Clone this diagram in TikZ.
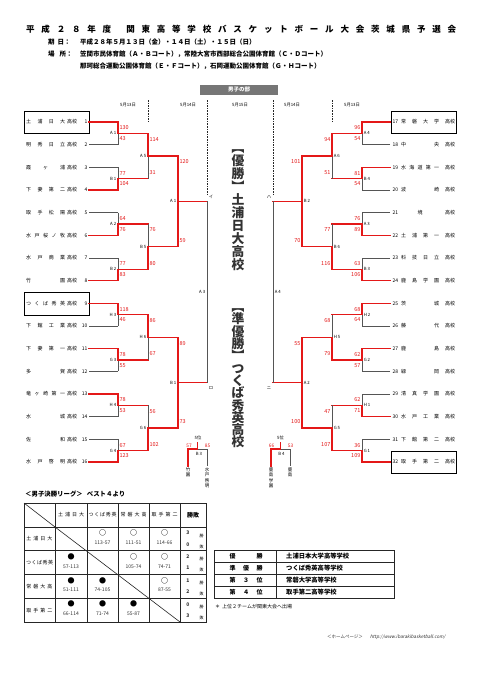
\documentclass[tikz,border=0pt]{standalone}
\usepackage{fontspec}
\setmainfont{Noto Sans CJK JP}
\usetikzlibrary{calc}
\definecolor{winred}{RGB}{228,24,24}
\definecolor{lgray}{RGB}{85,85,85}
\definecolor{bannergray}{RGB}{118,118,118}
\definecolor{bigtext}{RGB}{50,50,50}
\newcommand\fsz[1]{\fontsize{#1}{#1}\selectfont}
\makeatletter
\def\sp@A#1{#1\sp@B}
\def\sp@B#1{\ifx#1\relax\else\hfil#1\expandafter\sp@B\fi}
\newcommand\sprd[2]{\makebox[#1][s]{\sp@A#2\relax}}
\makeatother
% left-side match
\newcommand\lmatch[9]{%
  \pgfmathsetmacro\ymid{(#3+#4)/2}%
  \coordinate (#1t) at (#2,#3);%
  \coordinate (#1b) at (#2,#4);%
  \coordinate (#1m) at (#2,\ymid);%
  \coordinate (#1x) at (#5,\ymid);%
  \ifnum#6=1\relax
    \draw[lose] (#1m) -- (#1b);\draw[win] (#1t) -- (#1m);%
  \else
    \draw[lose] (#1t) -- (#1m);\draw[win] (#1m) -- (#1b);%
  \fi
  \draw[win] (#1m) -- (#1x);%
  \node[mlab, anchor=east] (#1l) at ($(#1m)+(-1.6,0)$) {#7};%
  \node[sc, anchor=west] (#1s) at ($(#1t)+(1.4,6)$) {#8};%
  \node[sc, anchor=west] (#1u) at ($(#1b)+(1.4,-6)$) {#9};%
}
% right-side match
\newcommand\rmatch[9]{%
  \pgfmathsetmacro\ymid{(#3+#4)/2}%
  \coordinate (#1t) at (#2,#3);%
  \coordinate (#1b) at (#2,#4);%
  \coordinate (#1m) at (#2,\ymid);%
  \coordinate (#1x) at (#5,\ymid);%
  \ifnum#6=1\relax
    \draw[lose] (#1m) -- (#1b);\draw[win] (#1t) -- (#1m);%
  \else
    \draw[lose] (#1t) -- (#1m);\draw[win] (#1m) -- (#1b);%
  \fi
  \draw[win] (#1m) -- (#1x);%
  \node[mlab, anchor=west] (#1l) at ($(#1m)+(1.6,0)$) {#7};%
  \node[sc, anchor=east] (#1s) at ($(#1t)+(-1.4,6)$) {#8};%
  \node[sc, anchor=east] (#1u) at ($(#1b)+(-1.4,-6)$) {#9};%
}
\newcommand\lteam[3]{%
  \node[tname, anchor=west] (ln#1) at (26,#2) {\sprd{39pt}{#3}};%
  \node[tname, anchor=west] (lk#1) at (67,#2) {高校};%
  \node[tname, anchor=east] (lu#1) at (87.5,#2) {#1};%
  \coordinate (ls#1) at (89,#2);%
  \coordinate (le#1) at (118,#2);%
}
\newcommand\rteam[3]{%
  \node[tname, anchor=west] (ru#1) at (392.5,#2) {#1};%
  \node[tname, anchor=west] (rn#1) at (401,#2) {\sprd{38pt}{#3}};%
  \node[tname, anchor=west] (rk#1) at (445,#2) {高校};%
  \coordinate (rs#1) at (390,#2);%
  \coordinate (re#1) at (362,#2);%
}
\newcommand\rrcell[5]{%
  \node[rrsym] (#1a) at (#2,#3+6) {#4};%
  \node[rrsc] (#1b) at (#2,#3+15.5) {#5};%
}
\newcommand\wl[4]{%
  \node[rrsc, font=\bfseries\fsz{5}] (#1w) at (188,#2+6) {#3};%
  \node[inner sep=0, font=\fsz{4}] (#1wk) at (201.5,#2+8.7) {勝};%
  \node[rrsc, font=\bfseries\fsz{5}] (#1l) at (188,#2+17.3) {#4};%
  \node[inner sep=0, font=\fsz{4}] (#1lk) at (201.5,#2+19.7) {敗};%
}
\begin{document}
\begin{tikzpicture}[x=1pt,y=-1pt,
  ln/.style={draw=lgray, line width=0.6pt},
  win/.style={draw=winred, line width=1.4pt, line cap=rect},
  lose/.style={ln},
  dashln/.style={draw=black!85, line width=1pt, dash pattern=on 1.6pt off 1pt},
  tname/.style={inner sep=0, font=\fsz{5}},
  sc/.style={inner sep=0, text=winred, font=\fsz{5.5}},
  mlab/.style={inner sep=0, font=\fsz{4.3}},
  dlab/.style={inner sep=0, font=\fsz{4.3}},
  tbl/.style={draw=black!85, line width=0.6pt},
  tblb/.style={draw=black!85, line width=0.9pt},
  rrsym/.style={inner sep=0, font=\bfseries\fsz{7}},
  rrsc/.style={inner sep=0, font=\fsz{5}, text=black!80},
  rrlab/.style={inner sep=0, font=\fsz{5}},
  boxst/.style={draw=black, line width=0.8pt},
  vname/.style={inner sep=0, align=center, font=\fontsize{4.5}{5.4}\selectfont},
  bigv/.style={inner sep=0, align=center, text=bigtext}
]
\fill[white] (0,0) rectangle (481,680);
\useasboundingbox (0,0) rectangle (481,680);

% ---------- header ----------
\node[anchor=west, inner sep=0, font=\bfseries\fsz{8.5}] (title) at (26,29)
  {\sprd{430pt}{平成２８年度\,関東高等学校バスケットボール大会茨城県予選会}};
\node[anchor=west, inner sep=0, font=\bfseries\fsz{6.5}] (d1) at (48,42) {期\hspace{3pt}日：};
\node[anchor=west, inner sep=0, font=\bfseries\fsz{6.5}] (d2) at (80,42) {平成２８年５月１３日（金）・１４日（土）・１５日（日）};
\node[anchor=west, inner sep=0, font=\bfseries\fsz{6.5}] (p1) at (48,54) {場\hspace{5pt}所：};
\node[anchor=west, inner sep=0, font=\bfseries\fsz{6.5}] (p2) at (80,54) {笠間市民体育館（Ａ・Ｂコート），常陸大宮市西部総合公園体育館（Ｃ・Ｄコート）};
\node[anchor=west, inner sep=0, font=\bfseries\fsz{6.5}] (p3) at (80,66) {那珂総合運動公園体育館（Ｅ・Ｆコート），石岡運動公園体育館（Ｇ・Ｈコート）};

\node[fill=bannergray, minimum width=78pt, minimum height=10pt, inner sep=0, text=white, font=\bfseries\fsz{5.5}] (banner) at (239,89.5) {男子の部};

\node[dlab] (dt1) at (128,105) {5月13日};
\node[dlab] (dt2) at (188,105) {5月14日};
\node[dlab] (dt3) at (240,105) {5月15日};
\node[dlab] (dt4) at (292,105) {5月14日};
\node[dlab] (dt5) at (352,105) {5月13日};
\draw[dashln] (148,100) -- (148,122);
\draw[dashln] (207,100) -- (207,195);
\draw[dashln] (273,100) -- (273,195);
\draw[dashln] (332,100) -- (332,122);

% ---------- left teams ----------
\lteam{1}{122}{土浦日大}
\lteam{2}{144.67}{明秀日立}
\lteam{3}{167.33}{霞ヶ浦}
\lteam{4}{190}{下妻第二}
\lteam{5}{212.67}{取手松陽}
\lteam{6}{235.33}{水戸桜ノ牧}
\lteam{7}{258}{水戸商業}
\lteam{8}{280.67}{竹園}
\lteam{9}{303.33}{つくば秀英}
\lteam{10}{326}{下館工業}
\lteam{11}{348.67}{下妻第一}
\lteam{12}{371.33}{多賀}
\lteam{13}{394}{竜ヶ崎第一}
\lteam{14}{416.67}{水城}
\lteam{15}{439.33}{佐和}
\lteam{16}{462}{水戸啓明}
\draw[boxst] (24,111) rectangle (89,133);
\draw[boxst] (24,292) rectangle (89,315);
\foreach \i in {2,3,5,7,10,12,14,15} {\draw[ln] (ls\i) -- (le\i);}
\foreach \i in {1,4,6,8,9,11,13,16} {\draw[win] (ls\i) -- (le\i);}

% ---------- right teams ----------
\rteam{17}{122}{常磐大学}
\rteam{18}{144.67}{中央}
\rteam{19}{167.33}{水海道第一}
\rteam{20}{190}{波崎}
\rteam{21}{212.67}{\hfil 境\hfil}
\rteam{22}{235.33}{土浦第一}
\rteam{23}{258}{科技日立}
\rteam{24}{280.67}{鹿島学園}
\rteam{25}{303.33}{茨城}
\rteam{26}{326}{藤代}
\rteam{27}{348.67}{鹿島}
\rteam{28}{371.33}{緑岡}
\rteam{29}{394}{清真学園}
\rteam{30}{416.67}{水戸工業}
\rteam{31}{439.33}{下館第二}
\rteam{32}{462}{取手第二}
\draw[boxst] (391,111) rectangle (456,133);
\draw[boxst] (391,451) rectangle (456,473.5);
\foreach \i in {18,20,21,23,26,28,29,31} {\draw[ln] (rs\i) -- (re\i);}
\foreach \i in {17,19,22,24,25,27,30,32} {\draw[win] (rs\i) -- (re\i);}

% ---------- left bracket ----------
\tikzset{lose/.style={ln}}
\lmatch{LA1}{118}{122}{144.67}{148}{1}{A 1}{130}{43}
\lmatch{LB1}{118}{167.33}{190}{148}{0}{B 1}{77}{104}
\lmatch{LA2}{118}{212.67}{235.33}{148}{0}{A 2}{64}{76}
\lmatch{LB2}{118}{258}{280.67}{148}{0}{B 2}{77}{83}
\lmatch{LH3}{118}{303.33}{326}{148}{1}{H 3}{118}{46}
\lmatch{LG3}{118}{348.67}{371.33}{148}{1}{G 3}{78}{55}
\lmatch{LH4}{118}{394}{416.67}{148}{1}{H 4}{78}{53}
\lmatch{LG4}{118}{439.33}{462}{148}{0}{G 4}{67}{123}
\lmatch{LA5}{148}{133.33}{178.67}{178}{1}{A 5}{114}{31}
\lmatch{LB5}{148}{224}{269.33}{178}{0}{B 5}{76}{80}
\lmatch{LH6}{148}{314.67}{360}{178}{1}{H 6}{86}{67}
\lmatch{LG6}{148}{405.33}{450.67}{178}{0}{G 6}{56}{102}
\tikzset{lose/.style={win}}
\lmatch{LAr}{178}{156}{246.67}{207}{1}{A 1}{120}{59}
\lmatch{LBr}{178}{337.33}{428}{207}{1}{B 1}{89}{73}
\draw[ln] (LArx) -- (LBrx);
\node[mlab, anchor=east] (LA3) at (205.4,292) {A 3};
\node[mlab] (kI) at (211,196.5) {イ};
\node[mlab] (kRo) at (211,388) {ロ};

% ---------- right bracket ----------
\tikzset{lose/.style={ln}}
\rmatch{RA4}{362}{122}{144.67}{332}{1}{A 4}{96}{54}
\rmatch{RB4}{362}{167.33}{190}{332}{1}{B 4}{81}{54}
\rmatch{RA3}{362}{212.67}{235.33}{332}{0}{A 3}{76}{89}
\rmatch{RB3}{362}{258}{280.67}{332}{0}{B 3}{63}{106}
\rmatch{RH2}{362}{303.33}{326}{332}{1}{H 2}{68}{64}
\rmatch{RG2}{362}{348.67}{371.33}{332}{1}{G 2}{62}{57}
\rmatch{RH1}{362}{394}{416.67}{332}{0}{H 1}{62}{71}
\rmatch{RG1}{362}{439.33}{462}{332}{0}{G 1}{36}{109}
\rmatch{RA6}{332}{133.33}{178.67}{302}{1}{A 6}{94}{51}
\rmatch{RB6}{332}{224}{269.33}{302}{0}{B 6}{77}{116}
\rmatch{RH5}{332}{314.67}{360}{302}{0}{H 5}{68}{79}
\rmatch{RG5}{332}{405.33}{450.67}{302}{0}{G 5}{47}{107}
\tikzset{lose/.style={win}}
\rmatch{RBr}{302}{156}{246.67}{273}{1}{B 2}{101}{70}
\rmatch{RAr}{302}{337.33}{428}{273}{0}{A 2}{55}{100}
\draw[ln] (RBrx) -- (RArx);
\node[mlab, anchor=west] (RA4f) at (274.6,292) {A 4};
\node[mlab] (kHa) at (269,196.5) {ハ};
\node[mlab] (kNi) at (269,388) {ニ};

% ---------- champions (vertical) ----------
\node[bigv, font=\bfseries\fontsize{12.8}{13}\selectfont] (champ) at (238,210)
  {︻\\優\\勝\\︼\\土\\浦\\日\\大\\高\\校};
\node[bigv, font=\bfseries\fontsize{12.8}{12.3}\selectfont] (runner) at (238,378.5)
  {︻\\準\\優\\勝\\︼\\つ\\く\\ば\\秀\\英\\高\\校};

% ---------- 5th place, left ----------
\coordinate (faL) at (188,449);
\coordinate (faR) at (207,449);
\coordinate (faM) at (197.5,449);
\coordinate (faT) at (197.5,442.5);
\coordinate (faLd) at (188,466);
\coordinate (faRd) at (207,466);
\draw[ln] (faM) -- (faR) -- (faRd);
\draw[win, line width=1.2pt] (faT) -- (faM) -- (faL) -- (faLd);
\node[dlab] (fat) at (198,437.5) {5位};
\node[sc, font=\fsz{4.8}, anchor=south] (fas1) at (189,447.6) {57};
\node[sc, font=\fsz{4.8}, anchor=south] (fas2) at (207.5,447.6) {85};
\node[dlab] (fab) at (199,453.8) {B 3};
\node[vname, anchor=north] (fan1) at (188,467.5) {竹\\園};
\node[vname, anchor=north] (fan2) at (207,467.5) {水\\戸\\啓\\明};

% ---------- 5th place, right ----------
\coordinate (fbL) at (271,449);
\coordinate (fbR) at (290,449);
\coordinate (fbM) at (280.5,449);
\coordinate (fbT) at (280.5,442.5);
\coordinate (fbLd) at (271,466);
\coordinate (fbRd) at (290,466);
\draw[ln] (fbM) -- (fbR) -- (fbRd);
\draw[win, line width=1.2pt] (fbT) -- (fbM) -- (fbL) -- (fbLd);
\node[dlab] (fbt) at (280.5,437.5) {5位};
\node[sc, font=\fsz{4.8}, anchor=south] (fbs1) at (271.5,447.6) {66};
\node[sc, font=\fsz{4.8}, anchor=south] (fbs2) at (290.5,447.6) {53};
\node[dlab] (fbb) at (281.5,453.8) {B 4};
\node[vname, anchor=north] (fbn1) at (271,467.5) {鹿\\島\\学\\園};
\node[vname, anchor=north] (fbn2) at (290,467.5) {鹿\\島};

% ---------- final league table ----------
\node[anchor=west, inner sep=0, font=\bfseries\fsz{6.4}] (lgtitle) at (25,494) {＜男子決勝リーグ＞\hspace{4pt}ベスト４より};
\draw[tbl] (24,503) rectangle (206,622);
\foreach \yy in {527,550.75,574.5,598.25} {\draw[tbl] (24,\yy) -- (206,\yy);}
\foreach \xx in {55,87,118,149,180} {\draw[tbl] (\xx,503) -- (\xx,622);}
\draw[tbl] (24,503) -- (55,527);
\draw[tbl] (55,527) -- (180,622);
\node[rrlab] (ch1) at (71,515) {\sprd{26pt}{土浦日大}};
\node[rrlab] (ch2) at (102.5,515) {\sprd{28pt}{つくば秀英}};
\node[rrlab] (ch3) at (133.5,515) {\sprd{26pt}{常磐大高}};
\node[rrlab] (ch4) at (164.5,515) {\sprd{26pt}{取手第二}};
\node[inner sep=0, font=\bfseries\fsz{6}] (ch5) at (193,515) {勝敗};
\node[rrlab] (rl1) at (39.5,538.9) {\sprd{26pt}{土浦日大}};
\node[rrlab] (rl2) at (39.5,562.6) {\sprd{27pt}{つくば秀英}};
\node[rrlab] (rl3) at (39.5,586.4) {\sprd{26pt}{常磐大高}};
\node[rrlab] (rl4) at (39.5,610.1) {\sprd{26pt}{取手第二}};
\rrcell{c12}{102.5}{527}{○}{113-57}
\rrcell{c13}{133.5}{527}{○}{111-51}
\rrcell{c14}{164.5}{527}{○}{114-66}
\rrcell{c21}{71}{550.75}{●}{57-113}
\rrcell{c23}{133.5}{550.75}{○}{105-74}
\rrcell{c24}{164.5}{550.75}{○}{74-71}
\rrcell{c31}{71}{574.5}{●}{51-111}
\rrcell{c32}{102.5}{574.5}{●}{74-105}
\rrcell{c34}{164.5}{574.5}{○}{87-55}
\rrcell{c41}{71}{598.25}{●}{66-114}
\rrcell{c42}{102.5}{598.25}{●}{71-74}
\rrcell{c43}{133.5}{598.25}{●}{55-87}
\wl{w1}{527}{3}{0}
\wl{w2}{550.75}{2}{1}
\wl{w3}{574.5}{1}{2}
\wl{w4}{598.25}{0}{3}

% ---------- results ----------
\draw[tblb] (214,550) rectangle (394,598);
\foreach \yy in {562,574,586} {\draw[tblb] (214,\yy) -- (394,\yy);}
\draw[tbl] (276,550) -- (276,598);
\node[inner sep=0, font=\bfseries\fsz{6}] (rk1) at (246,556) {\sprd{33pt}{優勝}};
\node[inner sep=0, font=\bfseries\fsz{6}] (rk2) at (246,568) {\sprd{33pt}{準優勝}};
\node[inner sep=0, font=\bfseries\fsz{6}] (rk3) at (246,580) {\sprd{33pt}{第３位}};
\node[inner sep=0, font=\bfseries\fsz{6}] (rk4) at (246,592) {\sprd{33pt}{第４位}};
\node[anchor=west, inner sep=0, font=\bfseries\fsz{6.3}] (rs1) at (286,556) {土浦日本大学高等学校};
\node[anchor=west, inner sep=0, font=\bfseries\fsz{6.3}] (rs2) at (286,568) {つくば秀英高等学校};
\node[anchor=west, inner sep=0, font=\bfseries\fsz{6.3}] (rs3) at (286,580) {常磐大学高等学校};
\node[anchor=west, inner sep=0, font=\bfseries\fsz{6.3}] (rs4) at (286,592) {取手第二高等学校};
\node[anchor=west, inner sep=0, font=\fsz{5}] (note) at (215,607) {＊\hspace{2pt}上位２チームが関東大会へ出場};

% ---------- footer ----------
\node[anchor=west, inner sep=0, font=\fsz{4.5}, text=black!80] (hp) at (327,637) {＜ホームページ＞};
\node[anchor=west, inner sep=0, font=\fsz{4.6}\addfontfeature{FakeSlant=0.2}, text=black!80] (url) at (370,637) {http://www.ibarakibasketball.com/};
\end{tikzpicture}
\end{document}
